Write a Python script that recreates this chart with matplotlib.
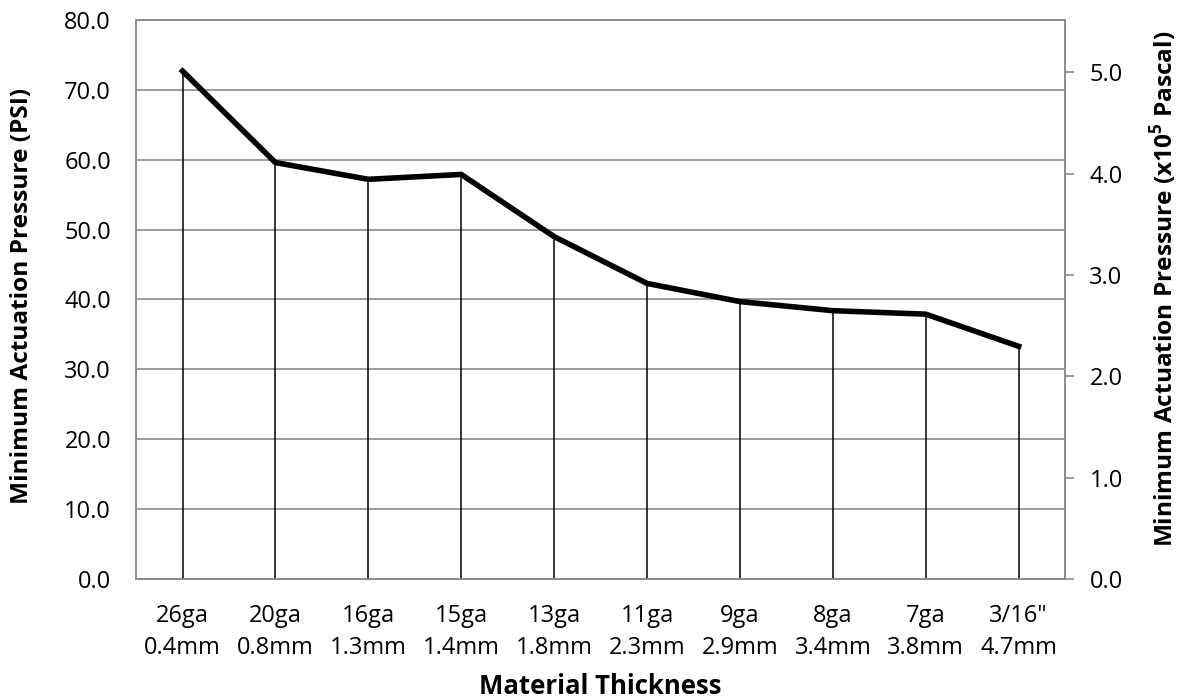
import matplotlib as mpl
mpl.use('Agg')
from matplotlib import pyplot as plt

# 材料厚度 vs 最小驱动压力
categories = ['26ga\n0.4mm', '20ga\n0.8mm', '16ga\n1.3mm', '15ga\n1.4mm', '13ga\n1.8mm',
              '11ga\n2.3mm', '9ga\n2.9mm', '8ga\n3.4mm', '7ga\n3.8mm', '3/16"\n4.7mm']
psi = [72.7, 59.6, 57.2, 57.9, 49.0, 42.3, 39.7, 38.4, 37.9, 33.3]
left_ticks = [0, 10, 20, 30, 40, 50, 60, 70, 80]
right_ticks = [0, 1, 2, 3, 4, 5]
PSI_TO_1E5PA = 0.0689476

plt.rcParams['font.family'] = ['Open Sans', 'DejaVu Sans']
plt.rcParams['mathtext.fontset'] = 'custom'
plt.rcParams['mathtext.rm'] = 'Open Sans'
plt.rcParams['mathtext.bf'] = 'Open Sans:bold'

fig = plt.figure(figsize=(11.82, 7), dpi=100)
ax = fig.add_axes([0.1151, 0.1729, 0.7860, 0.7985])
x = list(range(len(categories)))

ax.set_xlim(-0.5, len(categories) - 0.5)
ax.set_ylim(0, 80)
ax.set_yticks(left_ticks)
ax.set_yticklabels(['%.1f' % v for v in left_ticks], fontsize=17)
ax.set_xticks(x)
ax.set_xticklabels(categories, fontsize=17, linespacing=1.42)
ax.tick_params(axis='x', length=0, pad=18)
ax.tick_params(axis='y', length=0, pad=18)
ax.yaxis.grid(True, color='#8c8c8c', linewidth=1.2)
ax.set_axisbelow(True)
for s in ax.spines.values():
    s.set_color('#8c8c8c')
    s.set_linewidth(1.2)

# 垂直线
ax.vlines(x, 0, psi, color='black', linewidth=1.1, zorder=3)
ax.plot(x, psi, color='black', linewidth=4, solid_joinstyle='round', zorder=4)

ax.set_xlabel('Material Thickness', fontsize=18.5, fontweight='bold', va='center')
ax.xaxis.set_label_coords(0.5, -0.193)
ax.set_ylabel('Minimum Actuation Pressure (PSI)', fontsize=17.6, fontweight='bold', va='center')
ax.yaxis.set_label_coords(-0.1227, 0.506)

ax2 = ax.twinx()
ax2.set_ylim(0, 80 * PSI_TO_1E5PA)
ax2.set_yticks(right_ticks)
ax2.set_yticklabels(['%.1f' % v for v in right_ticks], fontsize=17)
ax2.tick_params(axis='y', length=6.5, width=1.2, color='#8c8c8c', pad=11)
for s in ax2.spines.values():
    s.set_color('#8c8c8c')
    s.set_linewidth(1.2)
ax2.set_ylabel(r'Minimum Actuation Pressure (x10$^{\mathbf{5}}$ Pascal)',
               fontsize=17.6, fontweight='bold', va='center')
ax2.yaxis.set_label_coords(1.1055, 0.519)

fig.savefig('out.png', dpi=100)
